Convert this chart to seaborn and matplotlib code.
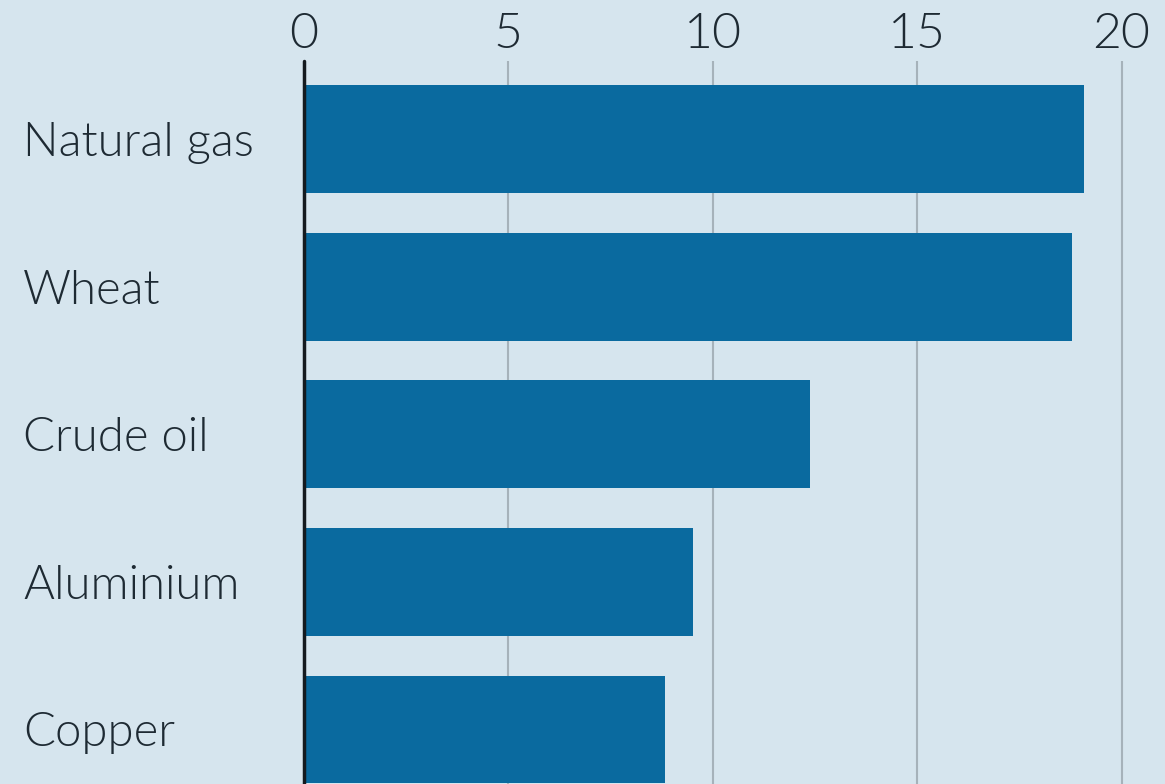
import matplotlib
matplotlib.use("Agg")
import matplotlib.pyplot as plt
import seaborn as sns
import pandas as pd

categories = ["Natural gas", "Wheat", "Crude oil", "Aluminium", "Copper"]
values = [19.08, 18.79, 12.38, 9.52, 8.84]
xticks = [0, 5, 10, 15, 20]

BG = "#d6e5ee"
BAR = "#0a6a9f"
TXT = "#1e2a33"
GRID = "#a6b2ba"

sns.set_theme(style="white")
plt.rcParams["font.family"] = ["Lato", "DejaVu Sans"]

df = pd.DataFrame({"commodity": categories, "value": values})

fig = plt.figure(figsize=(11.65, 7.84), dpi=100)
fig.patch.set_facecolor(BG)
ax = fig.add_axes([303.5 / 1165, 0, 1 - 303.5 / 1165, 1 - 61 / 784])
ax.set_facecolor(BG)

sns.barplot(data=df, x="value", y="commodity", orient="h", color=BAR,
            width=0.73, saturation=1, ax=ax, zorder=3, edgecolor="none")

ax.set_xlim(0, (1165 - 303.5) / 40.9)
ax.set_ylim(4.37, -0.53)
ax.set_xticks(xticks)
ax.set_xticklabels([str(t) for t in xticks])
ax.xaxis.tick_top()
ax.tick_params(axis="x", length=0, pad=3, labelsize=36, labelcolor=TXT)
ax.tick_params(axis="y", length=0, pad=202, labelsize=34, labelcolor=TXT)
for lab in ax.get_yticklabels() + ax.get_xticklabels():
    lab.set_fontweight(300)
for lab in ax.get_yticklabels():
    lab.set_horizontalalignment("left")
ax.set_xlabel("")
ax.set_ylabel("")
for t in xticks[1:]:
    ax.axvline(t, color=GRID, lw=1.5, zorder=1)
ax.axvline(0, color="#141a1f", lw=2.5, zorder=4, clip_on=False)
for s in ax.spines.values():
    s.set_visible(False)

fig.savefig("out.png", dpi=100, facecolor=BG)
